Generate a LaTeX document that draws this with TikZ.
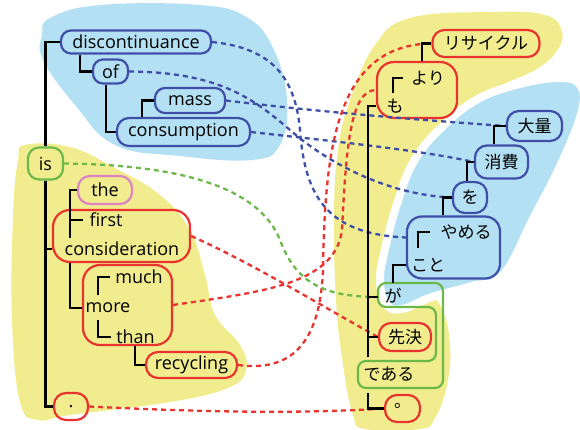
\documentclass[tikz,border=0pt]{standalone}
\usepackage{fontspec}
\setmainfont{Open Sans}
\newfontfamily\jp{Noto Sans CJK JP}
\usetikzlibrary{calc}
\definecolor{cblue}{HTML}{3F4FA8}
\definecolor{cfill}{HTML}{B3E1F3}
\definecolor{cyel}{HTML}{F1EC8E}
\definecolor{cred}{HTML}{E8332E}
\definecolor{cgreen}{HTML}{6DB84A}
\definecolor{cpink}{HTML}{DD85C4}
\begin{document}
\begin{tikzpicture}[x=1pt,y=-1pt,
  box/.style={draw=#1, line width=2.2pt, rounded corners=10pt, inner sep=0pt},
  en/.style={font=\fontsize{18}{20}\selectfont},
  ja/.style={font=\jp\fontsize{17}{19}\selectfont},
  txt/.style={inner sep=1pt},
  tree/.style={line width=2.6pt, black},
  link/.style={line width=2.3pt, dash pattern=on 5pt off 4pt, draw=#1},
]
\useasboundingbox (0,0) rectangle (580,430);
% ---------- regions ----------
\fill[cfill] plot[smooth cycle, tension=0.7] coordinates {(50,18) (100,5) (200,5) (248,18) (274,50) (287,100) (280,145) (252,160) (180,156) (115,145) (75,105) (43,60) (42,35)};
\fill[cyel] plot[smooth cycle, tension=0.7] coordinates {(25,145) (70,147) (115,168) (160,195) (190,230) (205,275) (215,315) (240,345) (246,370) (228,388) (170,402) (70,415) (38,420) (20,402) (12,320) (13,215) (18,160)};
\fill[cyel] plot[smooth cycle, tension=0.7] coordinates {(410,18) (490,12) (545,15) (562,32) (556,52) (535,70) (500,86) (462,110) (430,150) (408,210) (410,265) (440,305) (450,345) (447,385) (435,418) (420,429) (365,429) (353,415) (343,365) (336,300) (334,215) (338,150) (350,100) (375,45)};
\filldraw[fill=cfill, draw=white, line width=8pt] plot[smooth cycle, tension=0.7] coordinates {(580,85) (560,78) (520,84) (478,99) (442,127) (414,161) (397,204) (386,245) (380,279) (386,304) (402,309) (432,297) (472,286) (503,275) (534,217) (562,162) (582,110)};
% ---------- left nodes ----------
\node[box=cblue, en, minimum width=150pt, minimum height=23pt] (disc) at (136,42) {discontinuance};
\node[box=cblue, en, minimum width=35pt, minimum height=24pt] (of) at (110.5,71.5) {of};
\node[box=cblue, en, minimum width=70pt, minimum height=25pt] (mass) at (190,100.5) {mass};
\node[box=cblue, en, minimum width=133pt, minimum height=28pt, rounded corners=12pt] (consump) at (183.5,132) {consumption};
\node[box=cgreen, en, minimum width=35pt, minimum height=32pt, rounded corners=11pt] (is) at (45.5,163.5) {is};
\node[box=cpink, en, minimum width=54pt, minimum height=28pt, rounded corners=12pt] (the) at (105,190) {the};
\node[box=cred, minimum width=137pt, minimum height=52pt, rounded corners=17pt] (consid) at (121.5,236) {};
\node[en, txt] (first) at (106,220) {first};
\node[en, txt] (constext) at (122,249) {consideration};
\node[box=cred, minimum width=89pt, minimum height=80pt, rounded corners=17pt] (moregrp) at (127.5,305) {};
\node[en, txt] (much) at (139,277) {much};
\node[en, txt] (moretext) at (108,308) {more};
\node[en, txt] (than) at (135.5,337) {than};
\node[box=cred, en, minimum width=91pt, minimum height=26pt, rounded corners=12pt] (recyc) at (191.5,365) {recycling};
\node[box=cred, en, minimum width=34pt, minimum height=27pt, rounded corners=12pt] (period) at (71,406.5) {.};
% ---------- right nodes ----------
\node[box=cred, ja, minimum width=107pt, minimum height=27pt, rounded corners=12pt] (ris) at (486,43.5) {リサイクル};
\node[box=cred, minimum width=80pt, minimum height=56pt, rounded corners=17pt] (yori) at (417,90) {};
\node[ja, txt] (yoritext) at (428,78) {より};
\node[ja, txt] (motext) at (395,106) {も};
\node[box=cblue, ja, minimum width=55pt, minimum height=30pt, rounded corners=12pt] (tairyo) at (534.5,126) {大量};
\node[box=cblue, ja, minimum width=53pt, minimum height=33pt, rounded corners=12pt] (shohi) at (501.5,162) {消費};
\node[box=cblue, ja, minimum width=34pt, minimum height=31pt, rounded corners=12pt] (wo) at (470,197.5) {を};
\node[box=cblue, minimum width=93pt, minimum height=62pt, rounded corners=15pt] (yameru) at (453.5,247.5) {};
\node[ja, txt] (yamerutext) at (466,232) {やめる};
\node[ja, txt] (kototext) at (428,265) {こと};
\draw[cgreen, line width=2.2pt, rounded corners=8pt] (378,283) -- (443,283) -- (443,388) -- (358,388) -- (358,361) -- (436,361) -- (436,307) -- (378,307) -- cycle;
\coordinate (gaw) at (378,297);
\coordinate (gan) at (393,283);
\node[ja, txt] (gatext) at (393,296) {が};
\node[box=cred, ja, minimum width=52pt, minimum height=28pt, rounded corners=12pt] (senk) at (405,337) {先決};
\node[ja, txt] (dearu) at (389,374) {である};
\node[box=cred, minimum width=35pt, minimum height=27pt, rounded corners=12pt] (maru) at (402.5,408.5) {};
\node[ja, inner sep=0pt, anchor=base west] (marutext) at (394,407.4) {。};
% ---------- dashed correspondences ----------
\draw[link=cblue] (disc.east) .. controls (270,48) and (295,75) .. (300,130) .. controls (305,200) and (330,234) .. ($(yameru.west)+(0,-10)$);
\draw[link=cblue] (of.east) .. controls (220,72) and (255,100) .. (290,130) .. controls (330,165) and (390,195) .. (wo.west);
\draw[link=cblue] (mass.east) .. controls (320,112) and (420,120) .. (tairyo.west);
\draw[link=cblue] (consump.east) .. controls (330,141) and (420,150) .. (shohi.west);
\draw[link=cred] (recyc.east) .. controls (290,372) and (320,345) .. (323,270) .. controls (325,150) and (335,45) .. (ris.west);
\draw[link=cred] (moregrp.east) .. controls (260,292) and (335,285) .. (342,230) .. controls (346,150) and (350,90) .. (yori.west);
\draw[link=cred] (consid.east) .. controls (250,262) and (320,305) .. (senk.west);
\draw[link=cred] (period.east) .. controls (200,412) and (300,414) .. (maru.west);
\draw[link=cgreen] (is.east) .. controls (200,165) and (262,195) .. (280,240) .. controls (295,280) and (320,297) .. (gaw);
% ---------- tree lines ----------
\draw[tree] (disc.west) -| (is.north);
\draw[tree] (is.south) |- (period.west);
\draw[tree] (is.south |- constext) -- (consid.west |- constext);
\draw[tree] (80,0 |- disc.south) |- (of.west);
\draw[tree] (106,0 |- of.south) |- (consump.west);
\draw[tree] (142,0 |- consump.north) |- (mass.west);
\draw[tree] (the.west) -| (70,238);
\draw[tree] (70,220) -- ($(first.west)+(-5,0)$);
\draw[tree] (70,0 |- consid.south) |- (moregrp.west |- moretext);
\draw[tree] (98,295) |- ($(much.west)+(-4,0)$);
\draw[tree] (98,320) |- ($(than.west)+(-4,0)$);
\draw[tree] (135,0 |- moregrp.south) |- (recyc.west);
\draw[tree] (yori.west |- motext) -| (368,357);
\draw[tree] (368,0 |- gaw) -- (gaw);
\draw[tree] (368,0 |- senk.west) -- (senk.west);
\draw[tree] (368,393) |- (maru.west);
\draw[tree] (422,0 |- yori.north) |- (ris.west);
\draw[tree] (393,93) |- ($(yoritext.west)+(-7,0)$);
\draw[tree] (494,0 |- shohi.north) |- (tairyo.west);
\draw[tree] (467,0 |- wo.north) |- (shohi.west);
\draw[tree] (443,0 |- yameru.north) |- (wo.west);
\draw[tree] (418,248) |- ($(yamerutext.west)+(-9,0)$);
\draw[tree] (gan) |- (yameru.west |- kototext);
\end{tikzpicture}
\end{document}
